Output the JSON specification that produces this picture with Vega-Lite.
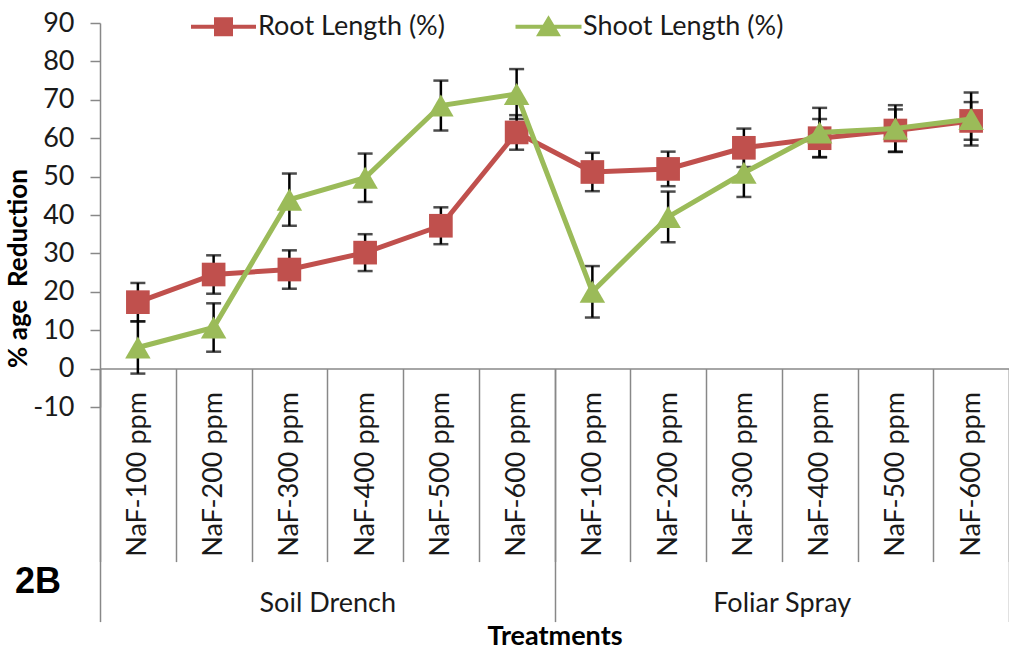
{
  "$schema": "https://vega.github.io/schema/vega-lite/v6.json",
  "width": 909,
  "height": 384,
  "autosize": {"type": "none"},
  "padding": {"left": 100, "top": 23, "right": 0, "bottom": 245},
  "background": "white",
  "config": {"view": {"stroke": null}, "font": "Lato"},
  "title": {"text": "2B", "orient": "bottom", "anchor": "start", "frame": "group", "font": "Liberation Sans", "fontSize": 36, "fontWeight": "bold", "color": "black", "dx": -85, "offset": -85},
  "data": {"values": [
    {"key": "Soil Drench|NaF-100 ppm", "group": "Soil Drench", "series": "Root Length (%)", "value": 17.3, "err": 5},
    {"key": "Soil Drench|NaF-200 ppm", "group": "Soil Drench", "series": "Root Length (%)", "value": 24.5, "err": 5},
    {"key": "Soil Drench|NaF-300 ppm", "group": "Soil Drench", "series": "Root Length (%)", "value": 25.8, "err": 5},
    {"key": "Soil Drench|NaF-400 ppm", "group": "Soil Drench", "series": "Root Length (%)", "value": 30.2, "err": 4.8},
    {"key": "Soil Drench|NaF-500 ppm", "group": "Soil Drench", "series": "Root Length (%)", "value": 37.2, "err": 4.8},
    {"key": "Soil Drench|NaF-600 ppm", "group": "Soil Drench", "series": "Root Length (%)", "value": 61.5, "err": 4.5},
    {"key": "Foliar Spray|NaF-100 ppm", "group": "Foliar Spray", "series": "Root Length (%)", "value": 51.2, "err": 5},
    {"key": "Foliar Spray|NaF-200 ppm", "group": "Foliar Spray", "series": "Root Length (%)", "value": 52.0, "err": 4.5},
    {"key": "Foliar Spray|NaF-300 ppm", "group": "Foliar Spray", "series": "Root Length (%)", "value": 57.5, "err": 5},
    {"key": "Foliar Spray|NaF-400 ppm", "group": "Foliar Spray", "series": "Root Length (%)", "value": 60.0, "err": 5},
    {"key": "Foliar Spray|NaF-500 ppm", "group": "Foliar Spray", "series": "Root Length (%)", "value": 62.0, "err": 5.5},
    {"key": "Foliar Spray|NaF-600 ppm", "group": "Foliar Spray", "series": "Root Length (%)", "value": 64.5, "err": 4.9},
    {"key": "Soil Drench|NaF-100 ppm", "group": "Soil Drench", "series": "Shoot Length (%)", "value": 5.5, "err": 6.8},
    {"key": "Soil Drench|NaF-200 ppm", "group": "Soil Drench", "series": "Shoot Length (%)", "value": 10.7, "err": 6.3},
    {"key": "Soil Drench|NaF-300 ppm", "group": "Soil Drench", "series": "Shoot Length (%)", "value": 44.0, "err": 6.8},
    {"key": "Soil Drench|NaF-400 ppm", "group": "Soil Drench", "series": "Shoot Length (%)", "value": 49.7, "err": 6.3},
    {"key": "Soil Drench|NaF-500 ppm", "group": "Soil Drench", "series": "Shoot Length (%)", "value": 68.5, "err": 6.5},
    {"key": "Soil Drench|NaF-600 ppm", "group": "Soil Drench", "series": "Shoot Length (%)", "value": 71.5, "err": 6.5},
    {"key": "Foliar Spray|NaF-100 ppm", "group": "Foliar Spray", "series": "Shoot Length (%)", "value": 20.0, "err": 6.7},
    {"key": "Foliar Spray|NaF-200 ppm", "group": "Foliar Spray", "series": "Shoot Length (%)", "value": 39.5, "err": 6.6},
    {"key": "Foliar Spray|NaF-300 ppm", "group": "Foliar Spray", "series": "Shoot Length (%)", "value": 51.0, "err": 6.3},
    {"key": "Foliar Spray|NaF-400 ppm", "group": "Foliar Spray", "series": "Shoot Length (%)", "value": 61.5, "err": 6.4},
    {"key": "Foliar Spray|NaF-500 ppm", "group": "Foliar Spray", "series": "Shoot Length (%)", "value": 62.5, "err": 6.1},
    {"key": "Foliar Spray|NaF-600 ppm", "group": "Foliar Spray", "series": "Shoot Length (%)", "value": 65.0, "err": 6.9}
  ]},
  "resolve": {"scale": {"x": "independent"}},
  "layer": [
    {
      "encoding": {
        "x": {
          "field": "key", "type": "nominal", "sort": null,
          "scale": {"type": "band", "paddingInner": 0, "paddingOuter": 0},
          "axis": {
            "orient": "bottom", "offset": -38.4, "title": null,
            "domainColor": "#888888", "domainWidth": 1.5,
            "tickBand": "extent", "tickSize": 193, "tickColor": "#888888", "tickWidth": 1.5,
            "labelAngle": 270, "labelAlign": "right", "labelBaseline": "middle", "labelPadding": -170,
            "labelFont": "Lato", "labelFontSize": 27, "labelColor": "#1a1a1a", "labelLimit": 400,
            "labelExpr": "split(datum.value, '|')[1]"
          }
        },
        "y": {
          "field": "value", "type": "quantitative",
          "scale": {"domain": [-10, 90], "nice": false, "zero": false},
          "axis": {
            "values": [-10, 0, 10, 20, 30, 40, 50, 60, 70, 80, 90], "tickCount": 20,
            "labelExpr": "'' + datum.value", "labelOverlap": false,
            "grid": false, "domainColor": "#888888", "domainWidth": 1.5,
            "tickColor": "#888888", "tickWidth": 1.5, "tickSize": 10,
            "labelFont": "Lato", "labelFontSize": 27, "labelColor": "#1a1a1a", "labelPadding": 16,
            "title": "% age\u00a0 Reduction", "titleFont": "Lato", "titleFontSize": 26, "titleFontWeight": "bold", "titleColor": "#000000",
            "titleX": -82, "titleY": 245, "titleAngle": 270, "titleAlign": "center", "titleBaseline": "middle"
          }
        }
      },
      "layer": [
        {
          "mark": {"type": "errorbar", "ticks": {"size": 15, "thickness": 2.5, "color": "black"}, "rule": {"strokeWidth": 2.5, "color": "black"}},
          "encoding": {"y": {"field": "value", "type": "quantitative"}, "yError": {"field": "err"}, "detail": {"field": "series"}}
        },
        {
          "transform": [{"filter": "datum.series === 'Root Length (%)'"}],
          "mark": {"type": "line", "color": "#C0504D", "strokeWidth": 5}
        },
        {
          "transform": [{"filter": "datum.series === 'Root Length (%)'"}],
          "mark": {"type": "point", "shape": "square", "filled": true, "size": 560, "color": "#C0504D", "opacity": 1}
        },
        {
          "transform": [{"filter": "datum.series === 'Shoot Length (%)'"}],
          "mark": {"type": "line", "color": "#9BBB59", "strokeWidth": 5}
        },
        {
          "transform": [{"filter": "datum.series === 'Shoot Length (%)'"}],
          "mark": {"type": "point", "shape": "triangle-up", "filled": true, "size": 650, "color": "#9BBB59", "opacity": 1}
        },
        {
          "mark": {"type": "point", "filled": true, "opacity": 0},
          "encoding": {
            "color": {
              "field": "series", "type": "nominal",
              "scale": {"domain": ["Root Length (%)", "Shoot Length (%)"], "range": ["#C0504D", "#9BBB59"]},
              "legend": {"orient": "none", "legendX": 110, "legendY": -10, "direction": "horizontal", "title": null, "padding": 0,
                "labelFont": "Lato", "labelFontSize": 27, "labelColor": "#1a1a1a", "labelOffset": 21, "labelLimit": 400,
                "symbolSize": 400, "symbolStrokeWidth": 0, "symbolOpacity": 1, "columnPadding": 70}
            },
            "shape": {
              "field": "series", "type": "nominal",
              "scale": {"domain": ["Root Length (%)", "Shoot Length (%)"], "range": ["M-3.25,-0.2H3.25V0.2H-3.25Z M-0.95,-0.95H0.95V0.95H-0.95Z", "M-3.3,-0.2H3.3V0.2H-3.3Z M0,-1.15L1.25,0.95H-1.25Z"]},
              "legend": {"orient": "none", "legendX": 110, "legendY": -10, "direction": "horizontal", "title": null, "padding": 0,
                "labelFont": "Lato", "labelFontSize": 27, "labelColor": "#1a1a1a", "labelOffset": 21, "labelLimit": 400,
                "symbolSize": 400, "symbolStrokeWidth": 0, "symbolOpacity": 1, "columnPadding": 70}
            }
          }
        }
      ]
    },
    {
      "mark": {"type": "point", "opacity": 0},
      "encoding": {
        "x": {
          "field": "group", "type": "nominal", "sort": ["Soil Drench", "Foliar Spray"],
          "scale": {"type": "band", "paddingInner": 0, "paddingOuter": 0},
          "axis": {
            "orient": "bottom", "offset": -38.4, "domain": false,
            "tickBand": "extent", "tickSize": 253, "tickColor": "#888888", "tickWidth": 1.5,
            "labelAngle": 0, "labelAlign": "center", "labelBaseline": "top", "labelPadding": -31,
            "labelFont": "Lato", "labelFontSize": 27, "labelColor": "#1a1a1a",
            "title": "Treatments", "titleFont": "Lato", "titleFontSize": 27, "titleFontWeight": "bold", "titleColor": "#000000",
            "titleY": 268, "titleBaseline": "middle"
          }
        },
        "y": {"field": "value", "type": "quantitative"}
      }
    }
  ]
}
